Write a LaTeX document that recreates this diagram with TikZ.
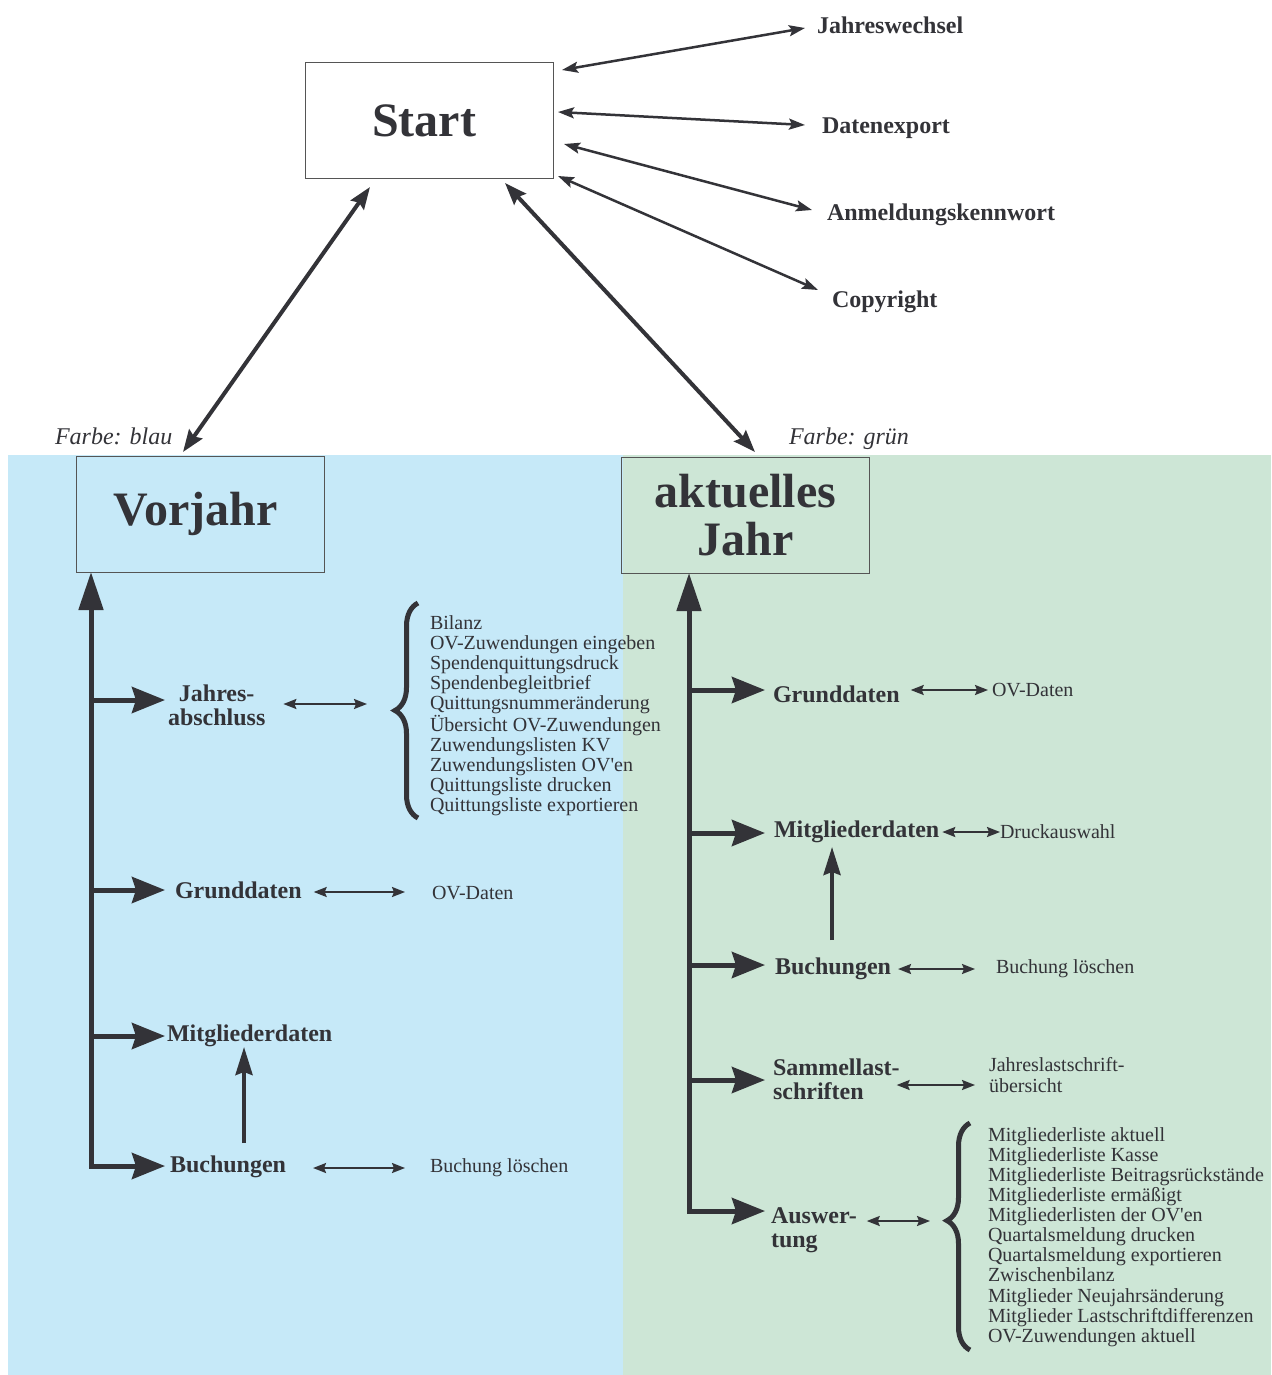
\documentclass[tikz,border=0pt]{standalone}
\usepackage{fontspec}
\setmainfont{Liberation Serif}
\usetikzlibrary{arrows.meta,calc,decorations.pathreplacing}
\definecolor{bgblue}{HTML}{C6E9F8}
\definecolor{bggreen}{HTML}{CDE6D6}
\definecolor{ink}{HTML}{333338}
\definecolor{boxline}{HTML}{555555}
\begin{document}
\begin{tikzpicture}[x=1pt,y=-1pt,
  every node/.style={inner sep=0pt,outer sep=0pt,text=ink},
  title/.style={draw=boxline,line width=1pt,minimum width=248pt,minimum height=116pt,align=center,font=\fontsize{48}{48}\selectfont\bfseries},
  blabel/.style={font=\fontsize{24}{24}\selectfont\bfseries,align=left,anchor=west},
  toplabel/.style={font=\fontsize{24}{24}\selectfont\bfseries,anchor=west},
  small/.style={font=\fontsize{20}{20.1}\selectfont,anchor=west,align=left},
  colorlabel/.style={font=\fontsize{24}{24}\selectfont\itshape,anchor=base west},
  trunk/.style={draw=ink,line width=5pt,-{Triangle[length=38pt,width=24pt]}},
  branch/.style={draw=ink,line width=5pt,-{Stealth[length=33pt,width=26pt,inset=4pt]}},
  bigdbl/.style={draw=ink,line width=4pt,{Stealth[length=22pt,width=16pt,inset=3pt]}-{Stealth[length=22pt,width=16pt,inset=3pt]}},
  meddbl/.style={draw=ink,line width=2.5pt,{Stealth[length=16pt,width=11pt,inset=3pt]}-{Stealth[length=16pt,width=11pt,inset=3pt]}},
  smalldbl/.style={draw=ink,line width=2pt,{Stealth[length=13pt,width=10pt,inset=2pt]}-{Stealth[length=13pt,width=10pt,inset=2pt]}},
  uparrow/.style={draw=ink,line width=4pt,-{Stealth[length=28pt,width=17pt,inset=3pt]}},
  bracestyle/.style={draw=ink,line width=5pt,decorate,decoration={brace,amplitude=23pt,aspect=#1}},
]
\useasboundingbox (0,0) rectangle (1271,1375);
\fill[white] (0,0) rectangle (1271,1375);
\fill[bgblue] (8,455) rectangle (623,1375);
\fill[bggreen] (623,455) rectangle (1271,1375);

% title boxes
\node[title,fill=white] (start) at (429,121) {\hspace*{-10pt}Start};
\node[title] (vorjahr) at (200.5,514) {\hspace*{-10pt}Vorjahr};
\node[title] (aktuell) at (745.5,515) {aktuelles\\Jahr};

\node[colorlabel] (fb) at (55,444) {Farbe: blau};
\node[colorlabel] (fg) at (789,444) {Farbe: grün};

% top right
\node[toplabel] (jw) at (817,25) {Jahreswechsel};
\node[toplabel] (dx) at (822,128) {Datenexport};
\node[toplabel] (ak) at (827,215) {Anmeldungskennwort};
\node[toplabel] (cr) at (832,302) {Copyright};
\draw[meddbl] ($(start.east)+(9,-51)$) -- ($(jw.west)+(-12,3)$);
\draw[meddbl] ($(start.east)+(5,-9)$) -- ($(dx.west)+(-17,-3)$);
\draw[meddbl] ($(start.east)+(11,23)$) -- ($(ak.west)+(-15,-5)$);
\draw[meddbl] ($(start.east)+(5,55)$) -- ($(cr.west)+(-14,-12)$);

\draw[bigdbl] ($(start.south)+(-59,8)$) -- ($(vorjahr.north)+(-17.5,-4)$);
\draw[bigdbl] ($(start.south)+(76,4)$) -- ($(aktuell.north)+(9.5,-5)$);

% left side
\coordinate (lbot) at (91,1168.5);
\node[blabel,align=center] (jahres) at (168,705) {Jahres-\\abschluss};
\node[blabel] (grund) at (175,890) {Grunddaten};
\node[blabel] (mitglied) at (167,1036) {Mitgliederdaten};
\node[blabel] (buch) at (170,1167) {Buchungen};
\node[small] (jlist) at (430,715.5) {Bilanz\\OV-Zuwendungen eingeben\\Spendenquittungsdruck\\Spendenbegleitbrief\\Quittungsnummeränderung\\Übersicht OV-Zuwendungen\\Zuwendungslisten KV\\Zuwendungslisten OV\textquotesingle en\\Quittungsliste drucken\\Quittungsliste exportieren};
\node[small] (ovd1) at (432,893) {OV-Daten};
\node[small] (loesch1) at (430,1168) {Buchung löschen};

\draw[trunk] (lbot) -- (lbot |- vorjahr.south);
\draw[branch] ($(jahres.west -| lbot)+(0,-5)$) -- ($(jahres.west)+(-3,-5)$);
\draw[branch] (grund.west -| lbot) -- ($(grund.west)+(-10,0)$);
\draw[branch] (mitglied.west -| lbot) -- ($(mitglied.west)+(-2,0)$);
\draw[branch] ($(buch.west -| lbot)+(0,-1)$) -- ($(buch.west)+(-5,-1)$);
\draw[smalldbl] ($(jahres.east)+(18,-1)$) -- ($(jlist.west)+(-63,-11.5)$);
\draw[smalldbl] ($(grund.east)+(12,2)$) -- ($(ovd1.west)+(-27,-1)$);
\draw[smalldbl] ($(buch.east)+(27,1)$) -- ($(loesch1.west)+(-25,0)$);
\draw[uparrow] ($(buch.north)+(16,-13)$) -- ($(buch.north |- mitglied.south)+(16,0)$);
\draw[bracestyle=0.5] (418,818) -- (418,603);

% right side
\coordinate (rbot) at (689,1213.5);
\node[blabel] (grund2) at (773,694) {Grunddaten};
\node[blabel] (mitglied2) at (774,832) {Mitgliederdaten};
\node[blabel] (buch2) at (775,969) {Buchungen};
\node[blabel] (sammel) at (773,1079) {Sammellast-\\schriften};
\node[blabel] (ausw) at (771,1230) {Auswer-\\tung};
\node[small] (ovd2) at (992,690) {OV-Daten};
\node[small] (druck) at (1000,832) {Druckauswahl};
\node[small] (loesch2) at (996,969) {Buchung löschen};
\node[small] (jls) at (989,1075) {Jahreslastschrift-\\übersicht};
\node[small] (rlist) at (988,1237) {Mitgliederliste aktuell\\Mitgliederliste Kasse\\Mitgliederliste Beitragsrückstände\\Mitgliederliste ermäßigt\\Mitgliederlisten der OV\textquotesingle en\\Quartalsmeldung drucken\\Quartalsmeldung exportieren\\Zwischenbilanz\\Mitglieder Neujahrsänderung\\Mitglieder Lastschriftdifferenzen\\OV-Zuwendungen aktuell};

\draw[trunk] (rbot) -- (rbot |- aktuell.south);
\draw[branch] ($(grund2.west -| rbot)+(0,-4)$) -- ($(grund2.west)+(-8,-4)$);
\draw[branch] ($(mitglied2.west -| rbot)+(0,1)$) -- ($(mitglied2.west)+(-9,1)$);
\draw[branch] ($(buch2.west -| rbot)+(0,-4)$) -- ($(buch2.west)+(-10,-4)$);
\draw[branch] ($(sammel.west -| rbot)+(0,1)$) -- ($(sammel.west)+(-8,1)$);
\draw[branch] ($(ausw.west -| rbot)+(0,-19)$) -- ($(ausw.west)+(-6,-19)$);
\draw[smalldbl] ($(grund2.east)+(11,-4)$) -- ($(ovd2.west)+(-4,0)$);
\draw[smalldbl] ($(mitglied2.east)+(3,0)$) -- (druck.west);
\draw[smalldbl] ($(buch2.east)+(7,0)$) -- ($(loesch2.west)+(-21,0)$);
\draw[smalldbl] ($(sammel.east)+(-3,6)$) -- ($(jls.west)+(-14,10)$);
\draw[smalldbl] ($(ausw.east)+(10,-9)$) -- ($(rlist.west)+(-58,-16)$);
\draw[uparrow] ($(buch2.north)+(-1,-18)$) -- ($(buch2.north |- mitglied2.south)+(-1,4)$);
\draw[bracestyle=0.57] (970,1350) -- (970,1123);
\end{tikzpicture}
\end{document}
